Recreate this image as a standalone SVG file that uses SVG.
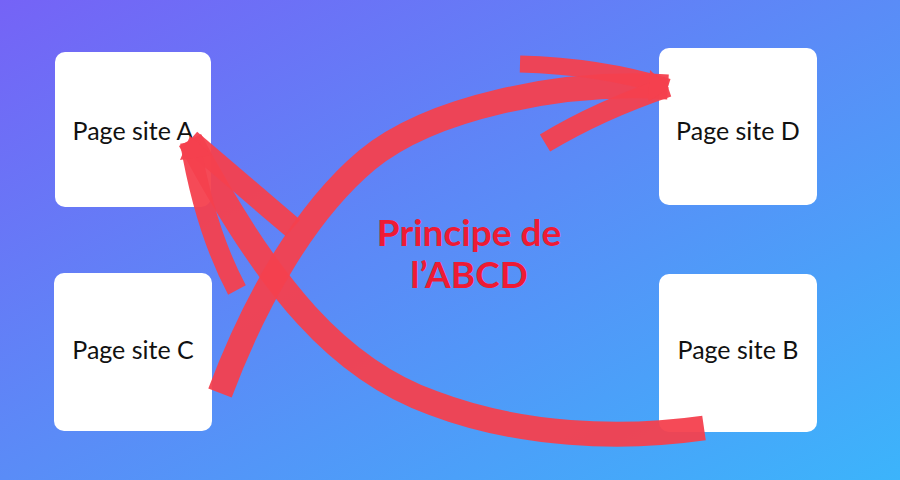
<svg xmlns="http://www.w3.org/2000/svg" width="900" height="480" viewBox="0 0 900 480">
  <defs>
    <linearGradient id="bg" x1="0" y1="0" x2="1" y2="1">
      <stop offset="0" stop-color="#7563f6"/>
      <stop offset="0.5" stop-color="#5a8cf7"/>
      <stop offset="1" stop-color="#3cb4fb"/>
    </linearGradient>
    <style>
      .box { fill: #ffffff; }
      .label { font-family: Lato, "Liberation Sans", sans-serif; font-size: 25px; fill: #111111; text-anchor: middle; }
      .title { font-family: Lato, "Liberation Sans", sans-serif; font-size: 37px; font-weight: bold; fill: #ee1b34; text-anchor: middle; }
      .stroke { fill: none; stroke: #f4404e; stroke-opacity: 0.95; stroke-linecap: butt; }
      .shaft { stroke-width: 25; }
      .barb { stroke-width: 20; }
      .tip { fill: #f4404e; fill-opacity: 0.95; }
    </style>
  </defs>
  <rect x="0" y="0" width="900" height="480" fill="url(#bg)"/>

  <g id="node-a">
    <rect class="box" x="55" y="52" width="156" height="155" rx="10"/>
    <text class="label" x="133" y="140">Page site A</text>
  </g>
  <g id="node-c">
    <rect class="box" x="54" y="273" width="158" height="158" rx="10"/>
    <text class="label" x="133" y="359">Page site C</text>
  </g>
  <g id="node-d">
    <rect class="box" x="659" y="48" width="158" height="157" rx="10"/>
    <text class="label" x="738" y="140">Page site D</text>
  </g>
  <g id="node-b">
    <rect class="box" x="659" y="274" width="158" height="158" rx="10"/>
    <text class="label" x="738" y="359">Page site B</text>
  </g>

  <g id="connectors">
    <!-- B to A -->
    <path class="stroke shaft" d="M 704,428 C 620,440 520,436 433,403 C 340,370 270,290 190,140"/>
    <path class="stroke barb" style="stroke-width:22" d="M 293,228 L 190,140"/>
    <path class="stroke barb" d="M 237,290 Q 205,230 190,142"/>
    <polygon class="tip" points="190,136 180,160 212,155"/>
    <!-- C to D -->
    <path class="stroke shaft" d="M 220,393 C 255,300 305,212 367,160 C 430,108 560,80 668,87"/>
    <path class="stroke barb" style="stroke-width:17" d="M 520,64 Q 600,66 668,87"/>
    <path class="stroke barb" d="M 545,143 Q 600,110 668,87"/>
    <polygon class="tip" points="669,88 650,70 648,102"/>
  </g>

  <g id="title">
    <text class="title" x="469" y="246">Principe de</text>
    <text class="title" x="469" y="288">l’ABCD</text>
  </g>
</svg>
